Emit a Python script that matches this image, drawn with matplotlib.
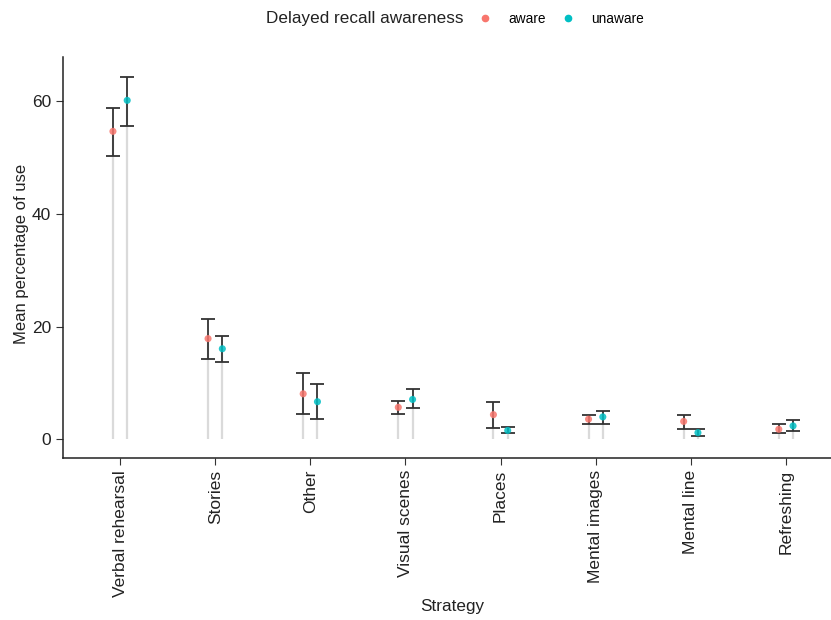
import numpy as np
import matplotlib
matplotlib.use("Agg")
import matplotlib.pyplot as plt
from matplotlib.lines import Line2D

plt.rcParams["font.family"] = ["Liberation Sans", "DejaVu Sans"]

# data
strategies = ["Verbal rehearsal", "Stories", "Other", "Visual scenes",
              "Places", "Mental images", "Mental line", "Refreshing"]
aware_mean = [54.7, 17.9, 8.1, 5.7, 4.4, 3.6, 3.2, 1.8]
aware_lo = [50.4, 14.3, 4.5, 4.5, 2.1, 2.7, 1.8, 1.1]
aware_hi = [58.9, 21.4, 11.8, 6.9, 6.7, 4.4, 4.4, 2.8]
unaware_mean = [60.2, 16.1, 6.7, 7.1, 1.6, 4.0, 1.2, 2.4]
unaware_lo = [55.6, 13.8, 3.6, 5.5, 1.1, 2.8, 0.65, 1.5]
unaware_hi = [64.4, 18.4, 9.9, 8.9, 2.2, 5.1, 1.8, 3.4]

AWARE_COLOR = "#F8766D"
UNAWARE_COLOR = "#00BFC4"
TEXT_COLOR = "#222222"

fig = plt.figure(figsize=(8.31, 6.2), dpi=100)
ax = fig.add_axes([63 / 831, 1 - 458.3 / 620, 780 / 831, (458.3 - 57) / 620])

x = np.arange(1, len(strategies) + 1)
dodge = 0.075
groups = [
    (x - dodge, aware_mean, aware_lo, aware_hi, AWARE_COLOR),
    (x + dodge, unaware_mean, unaware_lo, unaware_hi, UNAWARE_COLOR),
]
for xs, m, lo, hi, col in groups:
    m = np.array(m)
    lo = np.array(lo)
    hi = np.array(hi)
    ax.vlines(xs, 0, m, color="#DADADA", linewidth=1.6, zorder=1)
    ax.errorbar(xs, m, yerr=[m - lo, hi - m], fmt="none", ecolor="#333333",
                elinewidth=1.3, capsize=5, capthick=1.3, zorder=2)
    ax.scatter(xs, m, s=26, color=col, alpha=0.85, edgecolors="none", zorder=3)

ax.set_xlim(0.4, 8.6)
ax.set_ylim(-3.35, 67.9)
ax.set_xticks(x)
ax.set_xticklabels(strategies, rotation=90, fontsize=12.5, color=TEXT_COLOR)
ax.set_yticks([0, 20, 40, 60])
ax.tick_params(axis="y", labelsize=12.5, labelcolor=TEXT_COLOR, length=5, color="#333333")
ax.tick_params(axis="x", length=5, color="#333333")
for s in ["top", "right"]:
    ax.spines[s].set_visible(False)
for s in ["left", "bottom"]:
    ax.spines[s].set_color("#222222")
    ax.spines[s].set_linewidth(1.1)

fig.text(22 / 831, 1 - 254 / 620, "Mean percentage of use", rotation=90,
         ha="center", va="center", fontsize=12, color=TEXT_COLOR)
fig.text(452 / 831, 1 - 606 / 620, "Strategy", ha="center", va="center",
         fontsize=12.3, color=TEXT_COLOR)

# legend on top
fig.text(266 / 831, 1 - 19 / 620, "Delayed recall awareness", ha="left",
         va="center", fontsize=12.3, color=TEXT_COLOR)
handles = [
    Line2D([], [], marker="o", linestyle="none", color=AWARE_COLOR, markersize=4.5),
    Line2D([], [], marker="o", linestyle="none", color=UNAWARE_COLOR, markersize=4.5),
]
fig.legend(handles, ["aware", "unaware"], loc="center left",
           bbox_to_anchor=(465 / 831, 1 - 19 / 620), ncol=2, frameon=False,
           fontsize=9.8, handletextpad=1.1, columnspacing=1.0, handlelength=1.2)

fig.savefig("out.png", dpi=100, facecolor="white")
